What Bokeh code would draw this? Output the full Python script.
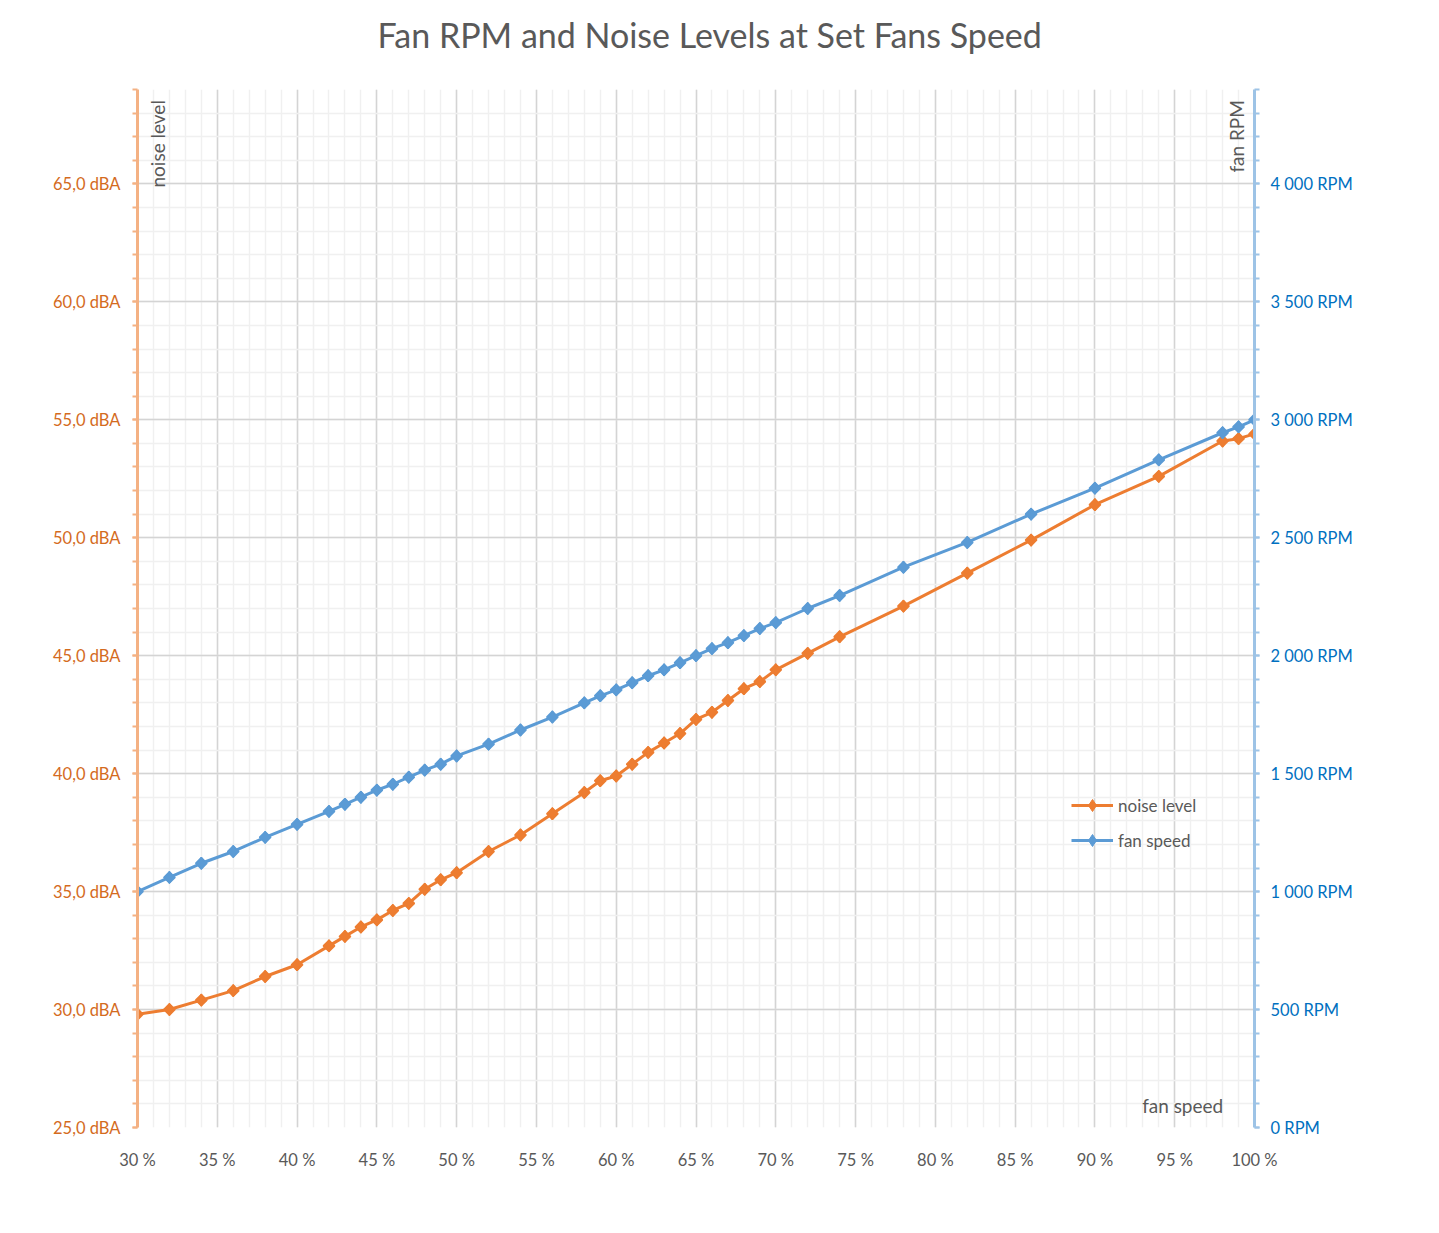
import math
from bokeh.plotting import figure
from bokeh.models import (Range1d, LinearAxis, SingleIntervalTicker, CustomJSTickFormatter,
                          Label, Legend, LegendItem, Title)
from bokeh.embed import file_html
from bokeh.resources import INLINE

# ---- data ----
fan_speed_pct = [30, 32, 34, 36, 38, 40, 42, 43, 44, 45, 46, 47, 48, 49, 50, 52, 54, 56, 58,
                 59, 60, 61, 62, 63, 64, 65, 66, 67, 68, 69, 70, 72, 74, 78, 82, 86, 90, 94,
                 98, 99, 100]
noise_dba = [29.8, 30.0, 30.4, 30.8, 31.4, 31.9, 32.7, 33.1, 33.5, 33.8, 34.2, 34.5, 35.1, 35.5,
             35.8, 36.7, 37.4, 38.3, 39.2, 39.7, 39.9, 40.4, 40.9, 41.3, 41.7, 42.3, 42.6, 43.1,
             43.6, 43.9, 44.4, 45.1, 45.8, 47.1, 48.5, 49.9, 51.4, 52.6, 54.1, 54.2, 54.4]
fan_rpm = [1000, 1060, 1120, 1170, 1230, 1285, 1340, 1370, 1400, 1430, 1455, 1485, 1515, 1540,
           1575, 1625, 1685, 1740, 1800, 1830, 1855, 1885, 1915, 1940, 1970, 2000, 2030, 2055,
           2085, 2115, 2140, 2200, 2255, 2375, 2480, 2600, 2710, 2830, 2945, 2970, 3000]

title_text = "Fan RPM and Noise Levels at Set Fans Speed"
FONT = "Lato"
GREY = "#595959"
ORANGE = "#ED7D31"
BLUE = "#5B9BD5"

p = figure(width=1430, height=1225, x_range=Range1d(30, 100), y_range=Range1d(25, 69),
           output_backend="svg", toolbar_location=None,
           min_border_left=137, min_border_right=176, min_border_top=89, min_border_bottom=98)
p.outline_line_color = None
p.extra_y_ranges = {"rpm": Range1d(0, 4400)}

# spacer between title and plot area
p.add_layout(Title(text=" ", text_font_size="10px", standoff=22), "above")

# title
p.title.text = title_text
p.title.align = "left"
p.title.offset = 240
p.title.standoff = 0
p.title.text_font = FONT
p.title.text_font_size = "34px"
p.title.text_font_style = "normal"
p.title.text_color = GREY

# tickers
xt = SingleIntervalTicker(interval=5, num_minor_ticks=5)
yt = SingleIntervalTicker(interval=5, num_minor_ticks=5)
rt = SingleIntervalTicker(interval=500, num_minor_ticks=5)

xax = p.below[0]
xax.ticker = xt
xax.formatter = CustomJSTickFormatter(code="return tick + ' %';")
xax.axis_line_color = None
xax.major_tick_line_color = None
xax.minor_tick_line_color = None
xax.major_label_text_font = FONT
xax.major_label_text_font_size = "16.5px"
xax.major_label_text_color = GREY
xax.major_label_standoff = 16

yax = p.left[0]
yax.ticker = yt
yax.formatter = CustomJSTickFormatter(code="return tick.toFixed(1).replace('.', ',') + ' dBA';")
yax.axis_line_color = "#F4B183"
yax.axis_line_width = 3
yax.major_tick_line_color = "#F4B183"
yax.major_tick_line_width = 2
yax.major_tick_out = 5
yax.major_tick_in = 0
yax.minor_tick_line_color = "#F4B183"
yax.minor_tick_line_width = 2
yax.minor_tick_out = 5
yax.minor_tick_in = 0
yax.major_label_text_font = FONT
yax.major_label_text_font_size = "16.5px"
yax.major_label_text_color = "#D46B1E"
yax.major_label_standoff = 12

rax = LinearAxis(y_range_name="rpm", ticker=rt,
                 formatter=CustomJSTickFormatter(
                     code=r"return tick.toFixed(0).replace(/\B(?=(\d{3})+(?!\d))/g, ' ') + ' RPM';"))
rax.axis_line_color = "#9DC3E6"
rax.axis_line_width = 3
rax.major_tick_line_color = "#9DC3E6"
rax.major_tick_line_width = 2
rax.major_tick_out = 5
rax.major_tick_in = 0
rax.minor_tick_line_color = "#9DC3E6"
rax.minor_tick_line_width = 2
rax.minor_tick_out = 5
rax.minor_tick_in = 0
rax.major_label_text_font = FONT
rax.major_label_text_font_size = "16.5px"
rax.major_label_text_color = "#0070C0"
rax.major_label_standoff = 11
p.add_layout(rax, "right")

# grids
p.xgrid.ticker = xt
p.ygrid.ticker = yt
for g in (p.xgrid, p.ygrid):
    g.grid_line_color = "#D4D4D4"
    g.grid_line_width = 1.5
    g.minor_grid_line_color = "#F0F0F0"
    g.minor_grid_line_width = 1.5

# series: line, legend diamond (hidden beneath), rotated-square marker on top
nl = p.line(fan_speed_pct, noise_dba, line_color=ORANGE, line_width=3)
nk = p.scatter(fan_speed_pct, noise_dba, marker="diamond", size=12.5,
               fill_color=ORANGE, line_color=ORANGE)
ns = p.scatter(fan_speed_pct, noise_dba, marker="square", angle=math.pi / 4, size=8,
               fill_color=ORANGE, line_color=ORANGE, line_width=1.5)
fl = p.line(fan_speed_pct, fan_rpm, line_color=BLUE, line_width=3, y_range_name="rpm")
fk = p.scatter(fan_speed_pct, fan_rpm, marker="diamond", size=12.5,
               fill_color=BLUE, line_color=BLUE, y_range_name="rpm")
fs = p.scatter(fan_speed_pct, fan_rpm, marker="square", angle=math.pi / 4, size=8,
               fill_color=BLUE, line_color=BLUE, line_width=1.5, y_range_name="rpm")

legend = Legend(items=[LegendItem(label="noise level", renderers=[nl, nk]),
                       LegendItem(label="fan speed", renderers=[fl, fk])],
                location=(934, 272), orientation="vertical")
legend.background_fill_alpha = 0
legend.border_line_color = None
legend.padding = 0
legend.margin = 0
legend.spacing = 5
legend.glyph_width = 42
legend.glyph_height = 30
legend.label_height = 20
legend.label_standoff = 5
legend.label_text_font = FONT
legend.label_text_font_size = "17px"
legend.label_text_color = GREY
p.add_layout(legend, "center")

# in-plot axis titles
for txt, x, y, ang, align in [("noise level", 31.25, 68.55, math.pi / 2, "right"),
                              ("fan RPM", 98.86, 68.55, math.pi / 2, "right"),
                              ("fan speed", 98.04, 25.93, 0, "right")]:
    p.add_layout(Label(x=x, y=y, text=txt, angle=ang, text_align=align, text_baseline="middle",
                       text_font=FONT, text_font_size="19px", text_color=GREY))

open("out.html", "w").write(file_html(p, INLINE))
